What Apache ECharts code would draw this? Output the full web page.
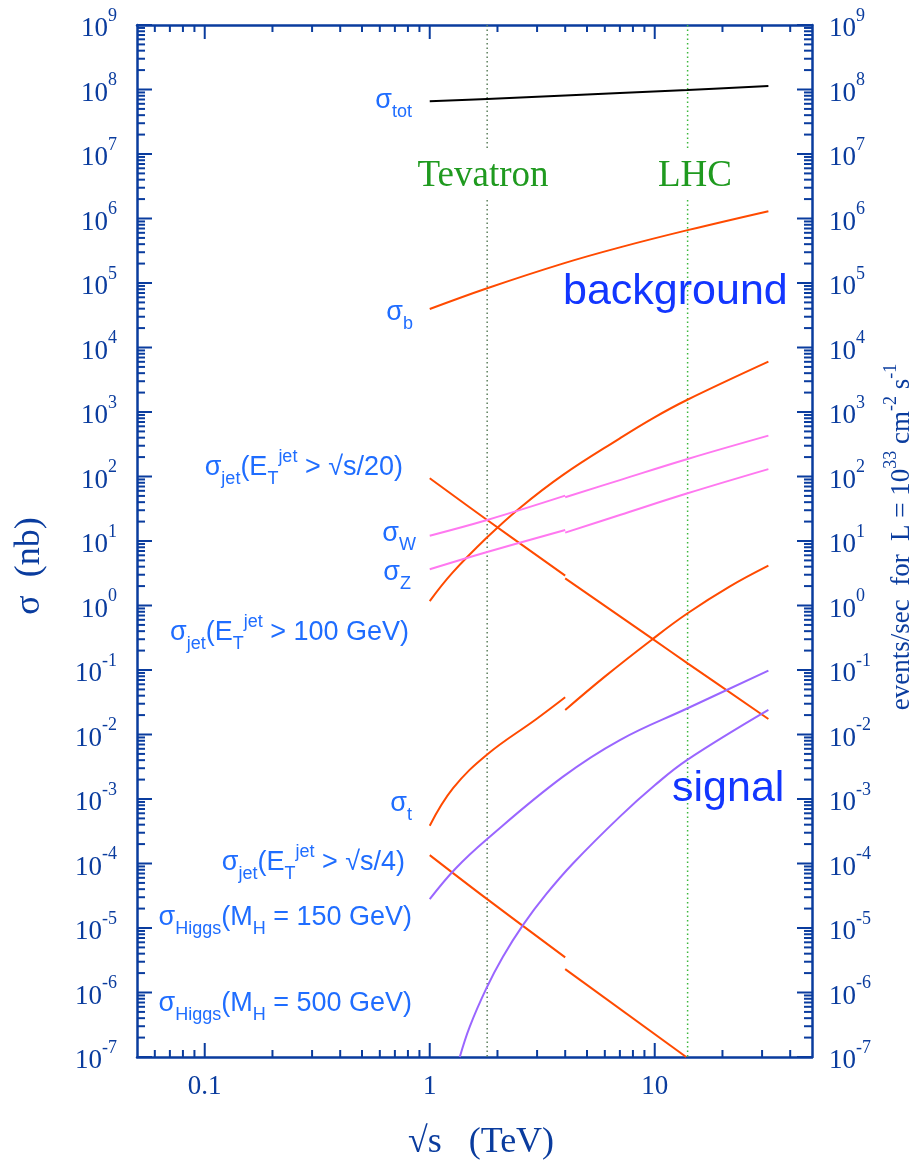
<!DOCTYPE html>
<html><head><meta charset="utf-8">
<script src="https://cdn.jsdelivr.net/npm/echarts@6/dist/echarts.min.js"></script>
<style>html,body{margin:0;padding:0;background:#fff}#c{width:914px;height:1160px}</style>
</head><body><div id="c"></div>
<script>
// ---------- data (x: sqrt(s) in TeV, y: sigma in nb) ----------
const xRange = [0.05, 50];
const yRange = [1e-7, 1e9];
const xTickLabels = ['0.1', '1', '10'];
const colliderEnergies = [1.8, 14];          // Tevatron, LHC
const colliderNames = ['Tevatron', 'LHC'];

const sigmaTot   = [[1, 6.6e7], [1.8, 7.15e7], [4, 8.04e7], [7, 8.8e7], [14, 9.8e7], [32, 1.13e8]];
const sigmaB     = [[1, 3.95e4], [1.8, 8.3e4], [3.9, 2.0e5], [7, 3.57e5], [14, 6.6e5], [32, 1.3e6]];
const sigmaJet100 = [[1, 1.17], [1.26, 3.2], [1.8, 11.4], [2.5, 32], [3.9, 105], [7, 391], [9.8, 798], [13.9, 1535], [32, 6030]];
const sigmaJet20a = [[1, 93.8], [1.8, 21.2], [4, 2.9]];
const sigmaJet20b = [[4, 2.64], [9.6, 0.317], [14, 0.127], [32, 0.0174]];
const sigmaWa    = [[1, 12.1], [1.8, 21.2], [4, 50.5]];
const sigmaWb    = [[4, 47.6], [7, 88], [14, 187], [32, 430]];
const sigmaZa    = [[1, 3.64], [1.8, 6.75], [4, 14.8]];
const sigmaZb    = [[4, 13.5], [7, 25.3], [14, 54.9], [32, 130]];
const sigmaTa    = [[1, 3.86e-4], [1.27, 1.47e-3], [1.8, 4.9e-3], [2.98, 0.0174], [4, 0.0378]];
const sigmaTb    = [[4, 0.024], [6, 0.079], [9.64, 0.29], [14, 0.757], [21.5, 1.96], [32, 4.14]];
const sigmaJet4a = [[1, 1.35e-4], [1.8, 2.8e-5], [4, 3.5e-6]];
const sigmaJet4b = [[4, 2.3e-6], [13.8, 1e-7]];
const sigmaH150  = [[1, 2.8e-5], [1.3, 8.3e-5], [1.8, 2.4e-4], [3.9, 2.2e-3], [7, 8.2e-3], [14, 0.0255], [32, 0.098]];
const sigmaH500  = [[1.36, 1e-7], [1.505, 2.94e-7], [1.785, 1.16e-6], [2.115, 3.59e-6], [2.595, 1.11e-5], [3.3, 3.37e-5], [4.33, 1.0e-4], [7, 5.33e-4], [10, 1.63e-3], [13.9, 4.0e-3], [32, 0.024]];

// ---------- style ----------
const AX = '#0a3c9e';
const LBL = '#1f6dff';
const BIG = '#1236ff';
const ORANGE = '#ff4a00';
const PINK = '#ff78f0';
const PURPLE = '#9a66ff';
const GREEN = '#1f9a1f';
const SERIF = 'Liberation Serif';
const SANS = 'Liberation Sans';

// tick values (decade structure of the log axes)
const xTicks = [];
[0.01, 0.1, 1, 10].forEach(d => { for (let m = 1; m <= 9; m++) { const v = +(m * d).toPrecision(3); if (v > xRange[0] && v < xRange[1]) xTicks.push([v, 1, m === 1 ? 1 : 0]); } });
const yTicks = [];
for (let e = -7; e <= 9; e++) { for (let m = 1; m <= 9; m++) { const v = +(m * Math.pow(10, e)).toPrecision(3); if (v >= yRange[0] && v <= yRange[1]) yTicks.push([1, v, m === 1 ? 1 : 0]); } }

const chart = echarts.init(document.getElementById('c'), null, {renderer: 'canvas'});

function curve(data, color) {
  return {type: 'line', data, xAxisIndex: 0, yAxisIndex: 0, showSymbol: false, symbol: 'none',
    smooth: 0.4, lineStyle: {color, width: 2}, itemStyle: {color}, z: 3, silent: true};
}
function vline(xv, color, gapTop, gapBot) {
  return {type: 'line', data: [[xv, yRange[1]], [xv, gapTop], [xv, '-'], [xv, gapBot], [xv, yRange[0]]],
    xAxisIndex: 0, yAxisIndex: 0, showSymbol: false, symbol: 'none', connectNulls: false,
    lineStyle: {color, width: 1.5, type: [1.5, 3]}, z: 2, silent: true};
}

const yLabelRich = {
  b: {fontSize: 27, fontFamily: SERIF, color: AX, lineHeight: 36, height: 28, verticalAlign: 'bottom'},
  e: {fontSize: 18, fontFamily: SERIF, color: AX, height: 18, verticalAlign: 'top'}
};
function yFmt(v) { const e = Math.round(Math.log10(v)); return '{b|10}{e|' + e + '}'; }

const labRich = {
  m: {fontSize: 27, fontFamily: SANS, fill: LBL, color: LBL, lineHeight: 40, verticalAlign: 'middle'},
  s: {fontSize: 18, fontFamily: SANS, fill: LBL, color: LBL, verticalAlign: 'bottom'},
  p: {fontSize: 18, fontFamily: SANS, fill: LBL, color: LBL, verticalAlign: 'top'}
};
function lab(xr, y, text) {
  return {type: 'text', x: xr, y: y, silent: true, z: 10,
    style: {text, rich: labRich, align: 'right', textAlign: 'right', verticalAlign: 'middle', textVerticalAlign: 'middle',
      fontSize: 27, fontFamily: SANS, fill: LBL}};
}
function plain(x, y, text, size, family, color, align, rot) {
  return {type: 'text', x, y, rotation: rot || 0, silent: true, z: 10,
    style: {text, fontSize: size, fontFamily: family, fill: color, align: align || 'center', textAlign: align || 'center',
      verticalAlign: 'middle', textVerticalAlign: 'middle'}};
}

const option = {
  animation: false,
  backgroundColor: '#ffffff',
  grid: {left: 137, right: 102, top: 25, bottom: 103, containLabel: false, outerBoundsMode: 'none'},
  xAxis: [
    {type: 'log', logBase: 10, min: xRange[0], max: xRange[1], position: 'bottom', splitNumber: 3,
      axisLine: {show: true, lineStyle: {color: AX, width: 2.5}}, axisTick: {show: false}, splitLine: {show: false}, minorTick: {show: false},
      axisLabel: {show: true, showMinLabel: false, showMaxLabel: false, hideOverlap: false, margin: 16,
        fontSize: 27, fontFamily: SERIF, color: AX,
        formatter: v => { const e = Math.round(Math.log10(v)); return xTickLabels[e + 1] || ''; }}},
    {type: 'log', logBase: 10, min: xRange[0], max: xRange[1], position: 'top',
      axisLine: {show: true, lineStyle: {color: AX, width: 2.5}}, axisTick: {show: false}, splitLine: {show: false}, axisLabel: {show: false}}
  ],
  yAxis: [
    {type: 'log', logBase: 10, min: yRange[0], max: yRange[1], interval: 1, position: 'left',
      axisLine: {show: true, lineStyle: {color: AX, width: 2.5}}, axisTick: {show: false}, splitLine: {show: false}, minorTick: {show: false},
      axisLabel: {show: true, margin: 20, formatter: yFmt, rich: yLabelRich, hideOverlap: false}},
    {type: 'log', logBase: 10, min: yRange[0], max: yRange[1], interval: 1, position: 'right',
      axisLine: {show: true, lineStyle: {color: AX, width: 2.5}}, axisTick: {show: false}, splitLine: {show: false},
      axisLabel: {show: true, margin: 17, formatter: yFmt, rich: yLabelRich, hideOverlap: false}}
  ],
  graphic: [
    plain(483, 176, colliderNames[0], 37, SERIF, GREEN),
    plain(695, 176, colliderNames[1], 37, SERIF, GREEN),
    plain(563, 292, 'background', 43, SANS, BIG, 'left'),
    plain(672, 789, 'signal', 43, SANS, BIG, 'left'),
    plain(30, 566, 'σ  (nb)', 36, SERIF, AX, 'center', Math.PI / 2),
    plain(481, 1143, '√s   (TeV)', 36, SERIF, AX, 'center'),
    {type: 'text', x: 902, y: 537, rotation: Math.PI / 2, silent: true, z: 10,
      style: {text: '{m|events/sec  for  L = 10}{p|33}{m| cm}{p|-2}{m| s}{p|-1}',
        rich: {m: {fontSize: 27, fontFamily: SERIF, fill: AX, lineHeight: 40, verticalAlign: 'middle'},
               p: {fontSize: 18, fontFamily: SERIF, fill: AX, verticalAlign: 'top'}},
        align: 'center', textAlign: 'center', verticalAlign: 'middle', textVerticalAlign: 'middle'}},
    lab(412, 101, '{m|σ}{s|tot}'),
    lab(413, 313, '{m|σ}{s|b}'),
    lab(403, 468, '{m|σ}{s|jet}{m|(E}{s|T}{p|jet}{m| > √s/20)}'),
    lab(416, 534, '{m|σ}{s|W}'),
    lab(411, 573, '{m|σ}{s|Z}'),
    lab(409, 633, '{m|σ}{s|jet}{m|(E}{s|T}{p|jet}{m| > 100 GeV)}'),
    lab(412, 804, '{m|σ}{s|t}'),
    lab(405, 863, '{m|σ}{s|jet}{m|(E}{s|T}{p|jet}{m| > √s/4)}'),
    lab(412, 918, '{m|σ}{s|Higgs}{m|(M}{s|H}{m| = 150 GeV)}'),
    lab(412, 1004, '{m|σ}{s|Higgs}{m|(M}{s|H}{m| = 500 GeV)}')
  ],
  series: [
    vline(colliderEnergies[0], '#5c7f5c', 1.24e7, 1.94e6),
    vline(colliderEnergies[1], '#3cb83c', 1.24e7, 1.94e6),
    curve(sigmaTot, '#000000'),
    curve(sigmaB, ORANGE),
    curve(sigmaJet100, ORANGE),
    curve(sigmaJet20a, ORANGE), curve(sigmaJet20b, ORANGE),
    curve(sigmaWa, PINK), curve(sigmaWb, PINK),
    curve(sigmaZa, PINK), curve(sigmaZb, PINK),
    curve(sigmaTa, ORANGE), curve(sigmaTb, ORANGE),
    curve(sigmaJet4a, ORANGE), curve(sigmaJet4b, ORANGE),
    curve(sigmaH150, PURPLE), curve(sigmaH500, PURPLE),
    {type: 'custom', data: xTicks, xAxisIndex: 0, yAxisIndex: 0, clip: false, silent: true, z: 5,
      renderItem: (p, api) => {
        const v = api.value(0), len = api.value(2) ? 14 : 7;
        const b = api.coord([v, yRange[0]]), t = api.coord([v, yRange[1]]);
        const st = {stroke: AX, lineWidth: 2};
        return {type: 'group', children: [
          {type: 'line', shape: {x1: b[0], y1: b[1], x2: b[0], y2: b[1] - len}, style: st},
          {type: 'line', shape: {x1: t[0], y1: t[1], x2: t[0], y2: t[1] + len}, style: st}]};
      }},
    {type: 'custom', data: yTicks, xAxisIndex: 0, yAxisIndex: 0, clip: false, silent: true, z: 5,
      renderItem: (p, api) => {
        const v = api.value(1), len = api.value(2) ? 15 : 8;
        const l = api.coord([xRange[0], v]), r = api.coord([xRange[1], v]);
        const st = {stroke: AX, lineWidth: 2};
        return {type: 'group', children: [
          {type: 'line', shape: {x1: l[0], y1: l[1], x2: l[0] + len, y2: l[1]}, style: st},
          {type: 'line', shape: {x1: r[0], y1: r[1], x2: r[0] - len, y2: r[1]}, style: st}]};
      }}
  ]
};
chart.setOption(option);
</script></body></html>
